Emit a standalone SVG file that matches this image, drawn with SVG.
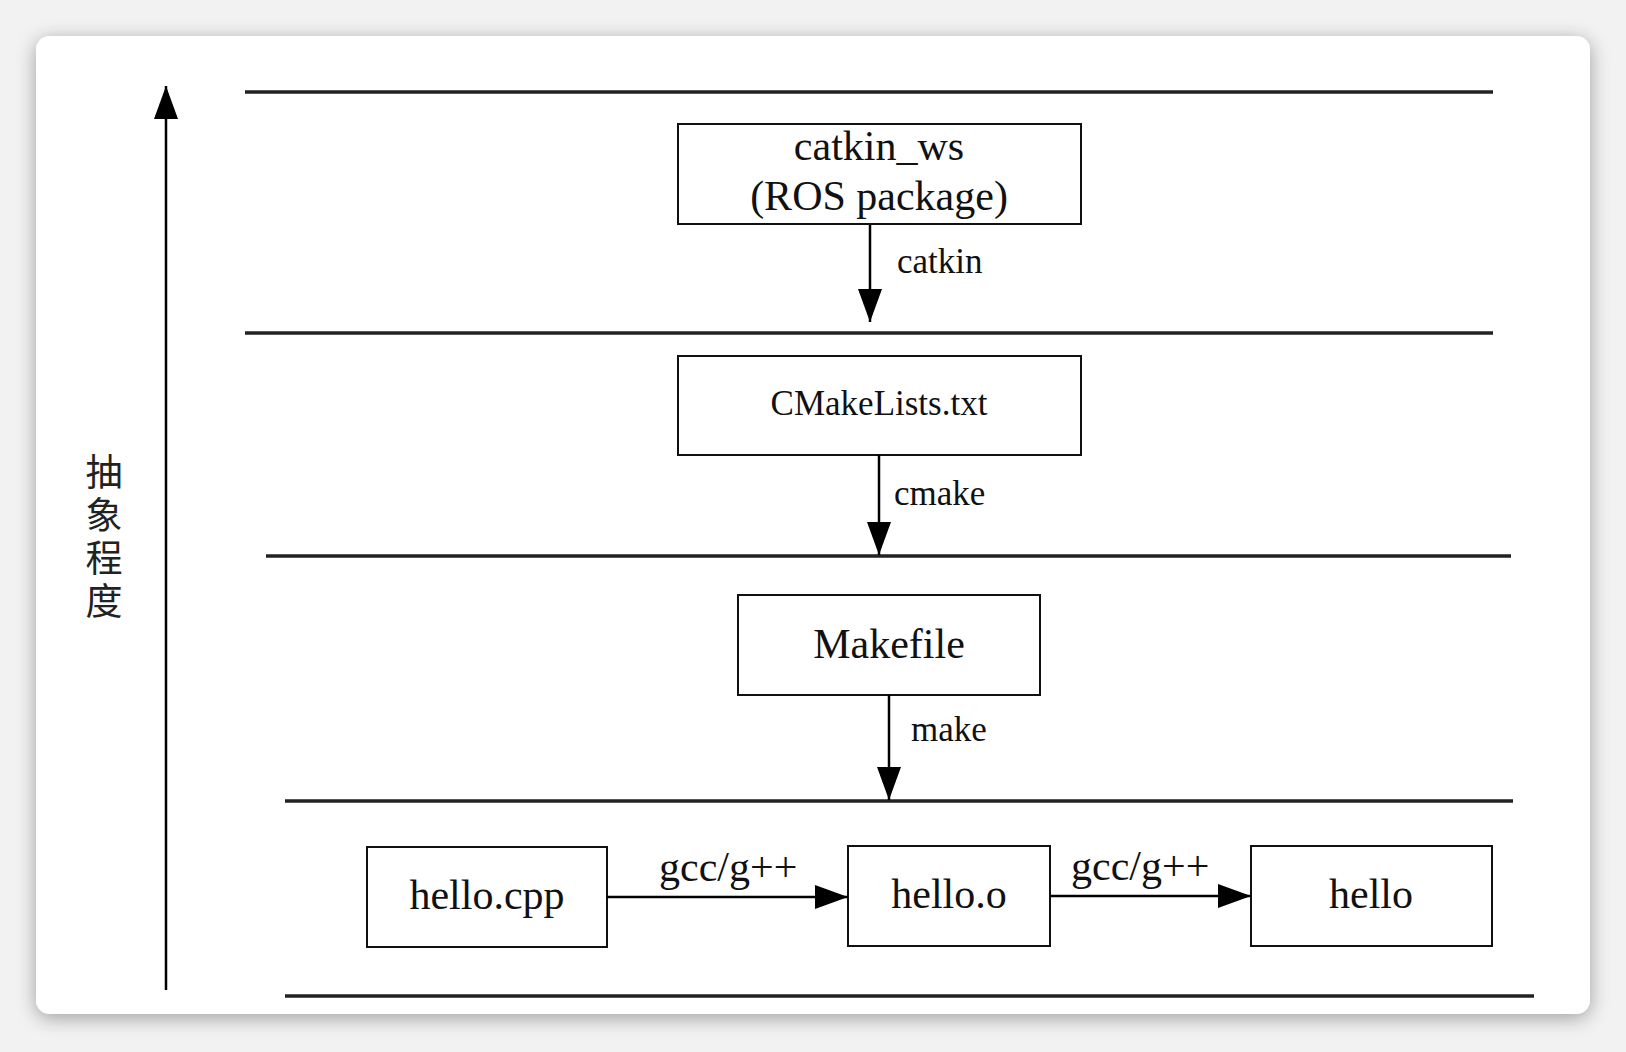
<svg xmlns="http://www.w3.org/2000/svg" width="1626" height="1052" viewBox="0 0 1626 1052">
<defs>
<filter id="shadow" x="-5%" y="-5%" width="110%" height="112%">
<feGaussianBlur in="SourceAlpha" stdDeviation="10"/>
<feOffset dx="0" dy="4"/>
<feComponentTransfer><feFuncA type="linear" slope="0.35"/></feComponentTransfer>
<feMerge><feMergeNode/><feMergeNode in="SourceGraphic"/></feMerge>
</filter>
<marker id="ah" markerUnits="userSpaceOnUse" markerWidth="34" markerHeight="24" refX="33" refY="12" orient="auto">
<path d="M0,0 L33,12 L0,24 Z" fill="#000"/>
</marker>
</defs>
<style>
.box{fill:#fff;stroke:#111;stroke-width:2}
.lvl{stroke:#222;stroke-width:3.5}
.edge{stroke:#000;stroke-width:2.5;fill:none;marker-end:url(#ah)}
.t{font-family:"Liberation Serif","Times New Roman",serif;fill:#111}
.big{font-size:42px;text-anchor:middle}
.mid{font-size:35px;text-anchor:middle}
.lab{font-size:35px}
.labg{font-size:42px}
.cjk{font-family:"Noto Sans CJK SC","Noto Sans CJK JP",sans-serif;font-size:37px;fill:#222;writing-mode:vertical-rl;letter-spacing:6px}
</style>
<rect width="1626" height="1052" fill="#f2f2f2"/>
<rect x="36" y="36" width="1554" height="978" rx="14" ry="14" fill="#fff" filter="url(#shadow)"/>
<g id="levels">
<line class="lvl" x1="245" y1="92" x2="1493" y2="92"/>
<line class="lvl" x1="245" y1="333" x2="1493" y2="333"/>
<line class="lvl" x1="266" y1="556" x2="1511" y2="556"/>
<line class="lvl" x1="285" y1="801" x2="1513" y2="801"/>
<line class="lvl" x1="285" y1="996" x2="1534" y2="996"/>
</g>
<g id="axis">
<line x1="166" y1="990" x2="166" y2="86" stroke="#000" stroke-width="2.5" marker-end="url(#ah)"/>
<text class="cjk" x="104" y="453">抽象程度</text>
</g>
<g id="node-catkin_ws">
<rect class="box" x="678" y="124" width="403" height="100"/>
<text class="t big" x="879" y="160">catkin_ws</text>
<text class="t big" x="879" y="210">(ROS package)</text>
</g>
<g id="node-cmakelists">
<rect class="box" x="678" y="356" width="403" height="99"/>
<text class="t mid" x="879" y="415">CMakeLists.txt</text>
</g>
<g id="node-makefile">
<rect class="box" x="738" y="595" width="302" height="100"/>
<text class="t big" x="889" y="658">Makefile</text>
</g>
<g id="node-hello_cpp">
<rect class="box" x="367" y="847" width="240" height="100"/>
<text class="t big" x="487" y="909">hello.cpp</text>
</g>
<g id="node-hello_o">
<rect class="box" x="848" y="846" width="202" height="100"/>
<text class="t big" x="949" y="908">hello.o</text>
</g>
<g id="node-hello">
<rect class="box" x="1251" y="846" width="241" height="100"/>
<text class="t big" x="1371" y="908">hello</text>
</g>
<g id="connectors">
<line class="edge" x1="870" y1="225" x2="870" y2="322"/>
<text class="t lab" x="897" y="273">catkin</text>
<line class="edge" x1="879" y1="455" x2="879" y2="555"/>
<text class="t lab" x="894" y="505">cmake</text>
<line class="edge" x1="889" y1="695" x2="889" y2="800"/>
<text class="t lab" x="911" y="741">make</text>
<line class="edge" x1="607" y1="897" x2="848" y2="897"/>
<text class="t labg" x="659" y="881">gcc/g++</text>
<line class="edge" x1="1050" y1="896" x2="1251" y2="896"/>
<text class="t labg" x="1071" y="880">gcc/g++</text>
</g>
</svg>
